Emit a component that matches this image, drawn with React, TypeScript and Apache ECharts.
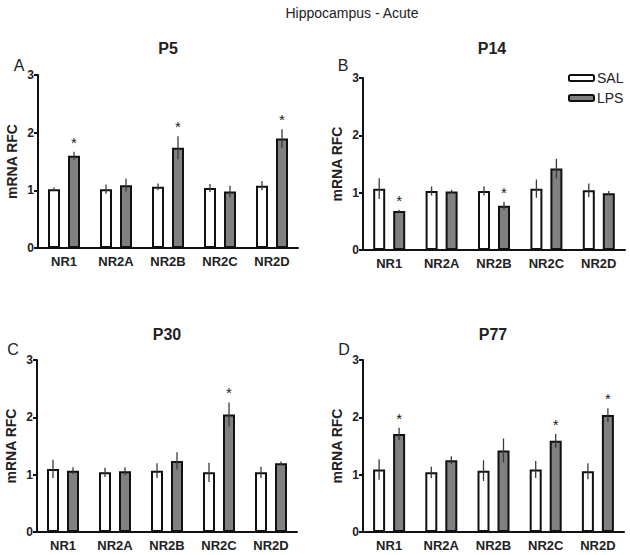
import React, { useEffect, useRef } from "react";
import * as echarts from "echarts";

const categories = ["NR1", "NR2A", "NR2B", "NR2C", "NR2D"];
const panelTitles = ["P5", "P14", "P30", "P77"];
const panelLetters = ["A", "B", "C", "D"];
const yTicks = [0, 1, 2, 3];

const salP5 = [1.02, 1.02, 1.06, 1.04, 1.08];
const salErrP5 = [0.03, 0.08, 0.06, 0.07, 0.08];
const lpsP5 = [1.6, 1.09, 1.74, 0.98, 1.9];
const lpsErrP5 = [0.07, 0.11, 0.2, 0.1, 0.16];
const sigP5 = [1, 0, 1, 0, 1];

const salP14 = [1.07, 1.03, 1.03, 1.07, 1.04];
const salErrP14 = [0.18, 0.08, 0.08, 0.16, 0.12];
const lpsP14 = [0.68, 1.02, 0.77, 1.42, 0.99];
const lpsErrP14 = [0.02, 0.03, 0.07, 0.17, 0.04];
const sigP14 = [1, 0, 1, 0, 0];

const salP30 = [1.1, 1.04, 1.07, 1.04, 1.04];
const salErrP30 = [0.16, 0.08, 0.13, 0.17, 0.1];
const lpsP30 = [1.07, 1.06, 1.24, 2.05, 1.2];
const lpsErrP30 = [0.06, 0.07, 0.15, 0.21, 0.03];
const sigP30 = [0, 0, 0, 1, 0];

const salP77 = [1.09, 1.04, 1.07, 1.09, 1.06];
const salErrP77 = [0.18, 0.1, 0.18, 0.15, 0.14];
const lpsP77 = [1.71, 1.25, 1.42, 1.59, 2.04];
const lpsErrP77 = [0.11, 0.07, 0.21, 0.12, 0.12];
const sigP77 = [1, 0, 0, 1, 1];

const FONT = "'Liberation Sans', Arial, Helvetica, sans-serif";

export default function App() {
  const ref = useRef<HTMLDivElement>(null);
  useEffect(() => {
    if (!ref.current) return;
    const chart = echarts.init(ref.current, null, { renderer: "svg" });

    const sal = [salP5, salP14, salP30, salP77];
    const salErr = [salErrP5, salErrP14, salErrP30, salErrP77];
    const lps = [lpsP5, lpsP14, lpsP30, lpsP77];
    const lpsErr = [lpsErrP5, lpsErrP14, lpsErrP30, lpsErrP77];
    const sig = [sigP5, sigP14, sigP30, sigP77];

    const grids = [
      { left: 38, top: 75, width: 260, height: 173 },
      { left: 363, top: 78, width: 262, height: 172 },
      { left: 37, top: 360, width: 260, height: 172 },
      { left: 363, top: 360, width: 261, height: 172 },
    ];
    const titlePos = [
      [168, 48],
      [492, 48],
      [167, 334],
      [493, 334],
    ];
    const letterPos = [
      [19, 65],
      [343, 65],
      [13, 349],
      [344, 349],
    ];

    const xAxes = grids.map((_, i) => ({
      type: "category",
      gridIndex: i,
      data: categories,
      axisLine: { lineStyle: { color: "#111", width: 2 } },
      axisTick: { alignWithLabel: true, length: 4, lineStyle: { color: "#111", width: 2 } },
      axisLabel: { fontFamily: FONT, fontWeight: "bold", fontSize: 13, color: "#222", margin: 7 },
    }));
    const yAxes = grids.map((_, i) => ({
      type: "value",
      gridIndex: i,
      min: yTicks[0],
      max: yTicks[yTicks.length - 1],
      interval: 1,
      name: "mRNA RFC",
      nameLocation: "middle",
      nameRotate: 90,
      nameGap: 19,
      nameTextStyle: { fontFamily: FONT, fontWeight: "bold", fontSize: 14, color: "#222" },
      axisLine: { show: true, lineStyle: { color: "#111", width: 2 } },
      axisTick: { show: true, length: 4, lineStyle: { color: "#111", width: 2 } },
      axisLabel: { fontFamily: FONT, fontWeight: "bold", fontSize: 12, color: "#222", margin: 4 },
      splitLine: { show: false },
    }));

    const series: any[] = [];
    grids.forEach((_, i) => {
      series.push({
        name: "SAL",
        type: "bar",
        xAxisIndex: i,
        yAxisIndex: i,
        data: sal[i],
        barWidth: 12,
        barGap: "66.7%",
        itemStyle: { color: "#ffffff", borderColor: "#111", borderWidth: 2 },
        z: 2,
      });
      series.push({
        name: "LPS",
        type: "bar",
        xAxisIndex: i,
        yAxisIndex: i,
        data: lps[i],
        barWidth: 12,
        barGap: "66.7%",
        itemStyle: { color: "#808080", borderColor: "#111", borderWidth: 2 },
        z: 2,
      });
      const errData: number[][] = [];
      categories.forEach((_, c) => {
        errData.push([c, sal[i][c], salErr[i][c], -1]);
        errData.push([c, lps[i][c], lpsErr[i][c], 1]);
      });
      series.push({
        type: "custom",
        xAxisIndex: i,
        yAxisIndex: i,
        data: errData,
        encode: { x: 0, y: 1 },
        z: 5,
        silent: true,
        renderItem: (params: any, api: any) => {
          const c = api.value(0);
          const m = api.value(1);
          const e = api.value(2);
          const side = api.value(3);
          const lo = api.coord([c, m - e]);
          const hi = api.coord([c, m + e]);
          const x = lo[0] + side * 10;
          return {
            type: "line",
            shape: { x1: x, y1: lo[1], x2: x, y2: hi[1] },
            style: { stroke: "#3a3a3a", lineWidth: 1.3 },
          };
        },
      });
      const starData: number[][] = [];
      categories.forEach((_, c) => {
        if (sig[i][c]) starData.push([c, lps[i][c] + lpsErr[i][c]]);
      });
      series.push({
        type: "custom",
        xAxisIndex: i,
        yAxisIndex: i,
        data: starData,
        encode: { x: 0, y: 1 },
        z: 5,
        silent: true,
        renderItem: (params: any, api: any) => {
          const p = api.coord([api.value(0), api.value(1)]);
          return {
            type: "text",
            x: p[0] + 10,
            y: p[1] - 2,
            style: {
              text: "*",
              fontFamily: FONT,
              fontSize: 15,
              fill: "#222",
              align: "center",
              verticalAlign: "bottom",
            },
          };
        },
      });
    });

    const graphics: any[] = [
      {
        type: "text",
        x: 352,
        y: 13,
        style: {
          text: "Hippocampus - Acute",
          fontFamily: FONT,
          fontSize: 14,
          fill: "#222",
          align: "center",
          verticalAlign: "middle",
        },
      },
    ];
    panelTitles.forEach((t, i) => {
      graphics.push({
        type: "text",
        x: titlePos[i][0],
        y: titlePos[i][1],
        style: {
          text: t,
          fontFamily: FONT,
          fontSize: 16,
          fontWeight: "bold",
          fill: "#222",
          align: "center",
          verticalAlign: "middle",
        },
      });
      graphics.push({
        type: "text",
        x: letterPos[i][0],
        y: letterPos[i][1],
        style: {
          text: panelLetters[i],
          fontFamily: FONT,
          fontSize: 16,
          fill: "#222",
          align: "center",
          verticalAlign: "middle",
        },
      });
    });

    chart.setOption({
      animation: false,
      backgroundColor: "#ffffff",
      grid: grids,
      xAxis: xAxes,
      yAxis: yAxes,
      legend: {
        orient: "vertical",
        left: 563,
        top: 66,
        itemWidth: 25,
        itemHeight: 6,
        itemGap: 6,
        textStyle: { fontFamily: FONT, fontSize: 14, color: "#222", padding: [0, 0, 0, -2] },
        data: [
          { name: "SAL", itemStyle: { color: "#ffffff", borderColor: "#111", borderWidth: 2 } },
          { name: "LPS", itemStyle: { color: "#808080", borderColor: "#111", borderWidth: 2 } },
        ],
      },
      graphic: graphics,
      series,
    });
    return () => chart.dispose();
  }, []);
  return (
    <div
      ref={ref}
      style={{ position: "fixed", left: 0, top: 0, width: 630, height: 555, background: "#fff" }}
    />
  );
}
